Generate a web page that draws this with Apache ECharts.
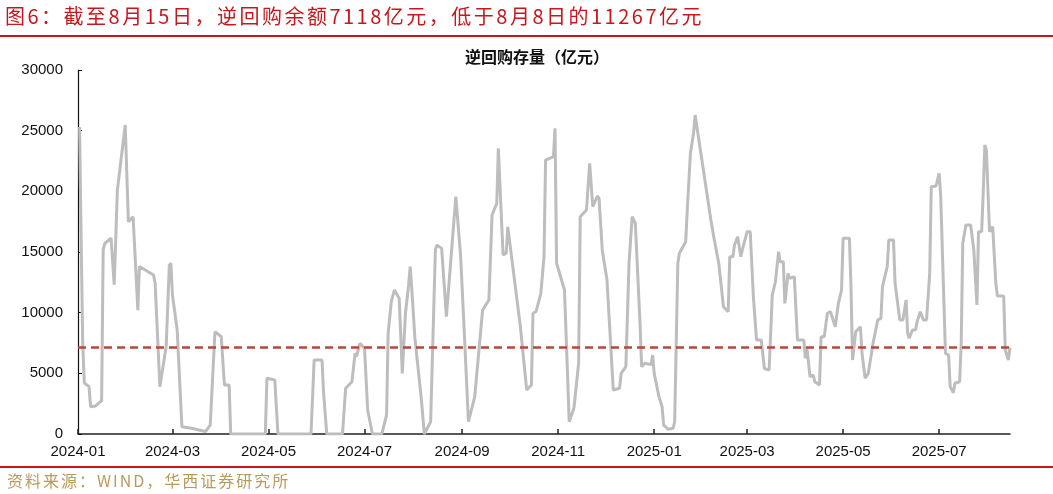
<!DOCTYPE html>
<html>
<head>
<meta charset="utf-8">
<script src="https://cdn.jsdelivr.net/npm/echarts@6/dist/echarts.min.js"></script>
<style>
  html, body { margin: 0; padding: 0; background: #fff; }
  #wrap { position: relative; width: 1053px; height: 494px; overflow: hidden; }
  #chart { position: absolute; left: 0; top: 0; width: 1053px; height: 494px; }
  .hdr { position: absolute; left: 5px; top: 3px; font-family: "Noto Sans CJK SC", sans-serif; font-size: 20px; color: #C8161D; letter-spacing: 2.5px; white-space: nowrap; line-height: 26px; }
  .ftr { position: absolute; left: 7px; top: 469px; font-family: "Noto Sans CJK SC", sans-serif; font-size: 16px; color: #B99A5B; letter-spacing: 2px; white-space: nowrap; line-height: 22px; }
  .rule { position: absolute; left: 0; width: 1053px; height: 1.5px; background: #C8161D; }
</style>
</head>
<body>
<div id="wrap">
  <div id="chart"></div>
  <div class="hdr">图6：截至8月15日，逆回购余额7118亿元，低于8月8日的11267亿元</div>
  <div class="rule" style="top:35px;"></div>
  <div class="rule" style="top:466px;"></div>
  <div class="ftr">资料来源：WIND，华西证券研究所</div>
</div>
<script>
// ---- data ----
const chartTitle = '逆回购存量（亿元）';
const dates = [
  '2024-01-02','2024-01-03','2024-01-04','2024-01-05','2024-01-08','2024-01-09','2024-01-12','2024-01-16','2024-01-17','2024-01-18',
  '2024-01-22','2024-01-24','2024-01-26','2024-01-31','2024-02-02','2024-02-05','2024-02-08','2024-02-09','2024-02-18','2024-02-19',
  '2024-02-22','2024-02-24','2024-02-26','2024-02-28','2024-02-29','2024-03-01','2024-03-04','2024-03-07','2024-03-13','2024-03-22',
  '2024-03-25','2024-03-28','2024-04-01','2024-04-03','2024-04-06','2024-04-07','2024-04-29','2024-04-30','2024-05-05','2024-05-07',
  '2024-05-28','2024-05-30','2024-06-04','2024-06-05','2024-06-07','2024-06-17','2024-06-19','2024-06-23','2024-06-25','2024-06-26',
  '2024-06-28','2024-07-01','2024-07-03','2024-07-06','2024-07-12','2024-07-15','2024-07-16','2024-07-18','2024-07-20','2024-07-23',
  '2024-07-25','2024-07-27','2024-07-29','2024-07-30','2024-07-31','2024-08-02','2024-08-06','2024-08-08','2024-08-12','2024-08-15',
  '2024-08-16','2024-08-19','2024-08-22','2024-08-28','2024-08-29','2024-08-31','2024-09-02','2024-09-05','2024-09-09','2024-09-14',
  '2024-09-18','2024-09-20','2024-09-23','2024-09-24','2024-09-27','2024-09-29','2024-09-30','2024-10-08','2024-10-12','2024-10-15',
  '2024-10-16','2024-10-18','2024-10-21','2024-10-23','2024-10-24','2024-10-29','2024-10-30','2024-10-31','2024-11-05','2024-11-07',
  '2024-11-08','2024-11-11','2024-11-14','2024-11-15','2024-11-19','2024-11-20','2024-11-21','2024-11-23','2024-11-26','2024-11-27',
  '2024-11-29','2024-12-02','2024-12-06','2024-12-10','2024-12-11','2024-12-14','2024-12-16','2024-12-18','2024-12-20','2024-12-23',
  '2024-12-24','2024-12-26','2024-12-30','2024-12-31','2025-01-01','2025-01-04','2025-01-06','2025-01-07','2025-01-10','2025-01-13',
  '2025-01-14','2025-01-16','2025-01-17','2025-01-21','2025-01-22','2025-01-24','2025-01-26','2025-01-27','2025-02-06','2025-02-08',
  '2025-02-09','2025-02-11','2025-02-12','2025-02-14','2025-02-17','2025-02-18','2025-02-20','2025-02-21','2025-02-23','2025-02-25',
  '2025-02-26','2025-03-01','2025-03-03','2025-03-05','2025-03-07','2025-03-10','2025-03-12','2025-03-15','2025-03-17','2025-03-19',
  '2025-03-21','2025-03-22','2025-03-24','2025-03-25','2025-03-27','2025-03-28','2025-03-31','2025-04-02','2025-04-06','2025-04-07',
  '2025-04-08','2025-04-10','2025-04-12','2025-04-13','2025-04-16','2025-04-17','2025-04-19','2025-04-21','2025-04-23','2025-04-26',
  '2025-04-28','2025-04-30','2025-05-01','2025-05-05','2025-05-06','2025-05-07','2025-05-09','2025-05-12','2025-05-13','2025-05-15',
  '2025-05-17','2025-05-20','2025-05-23','2025-05-25','2025-05-26','2025-05-29','2025-05-30','2025-06-02','2025-06-03','2025-06-04',
  '2025-06-06','2025-06-08','2025-06-10','2025-06-11','2025-06-12','2025-06-14','2025-06-16','2025-06-17','2025-06-19','2025-06-21',
  '2025-06-23','2025-06-25','2025-06-26','2025-06-29','2025-07-01','2025-07-02','2025-07-05','2025-07-07','2025-07-08','2025-07-10',
  '2025-07-11','2025-07-14','2025-07-15','2025-07-16','2025-07-18','2025-07-21','2025-07-23','2025-07-25','2025-07-26','2025-07-28',
  '2025-07-29','2025-07-30','2025-07-31','2025-08-02','2025-08-03','2025-08-04','2025-08-06','2025-08-07','2025-08-11','2025-08-12',
  '2025-08-14','2025-08-15'
];
const reverseRepo = [
  25300,16000,7500,4200,3900,2250,2300,2750,15200,15700,
  16150,12300,20100,25470,17500,17900,10200,13800,13100,12400,
  3900,5550,7200,13900,14070,11460,8570,600,470,200,
  740,8430,8020,4040,4040,0,0,4590,4450,0,
  0,6100,6100,3380,0,0,3770,4310,6650,6400,
  7470,7060,1980,0,0,1570,8300,10900,11870,11180,
  5000,9950,12280,13790,12000,7890,3000,0,1010,15170,
  15580,15300,9670,19560,19560,14750,9400,1010,3080,10220,
  11040,18050,19010,23550,14750,14900,17070,8840,3630,4040,
  9950,10100,11600,14620,22580,22860,25200,14070,11870,4720,
  1010,2120,5830,17910,18460,20380,22310,18730,19620,19400,
  15170,12690,3630,3770,5000,5550,14070,17910,17370,9120,
  5550,5830,5720,6510,5000,3080,2250,740,390,470,
  1010,14070,14890,15850,18460,23130,24780,26290,17640,16130,
  16000,14070,14200,10490,10080,14610,14610,15580,16260,14610,
  15170,16670,16670,11310,7750,7750,5400,5270,11460,12550,
  15030,14200,14200,10770,13240,12830,12960,7750,7750,6240,
  7060,4720,4860,4310,4040,8020,8020,9950,10080,8840,
  10770,11870,16130,16130,12140,6100,8430,8840,6650,4590,
  5000,7470,9400,9530,12140,13790,15990,15990,12420,12280,
  9400,9400,11040,8300,7890,8570,8570,9260,10080,9400,
  9400,13240,20380,20440,21480,19560,6650,6510,3900,3400,
  4180,4310,7470,15720,17230,17230,15170,10630,16670,16670,
  19970,23820,23410,16670,16670,17090,12420,11370,11370,6920,
  6100,7118
];
const latestValue = 7118;            // dashed reference line
const axisStart = '2024-01-01';
const axisEnd = '2025-08-15';
const tickLabels = ['2024-01','2024-03','2024-05','2024-07','2024-09','2024-11','2025-01','2025-03','2025-05','2025-07'];
const yTicks = [0, 5000, 10000, 15000, 20000, 25000, 30000];

// ---- build ----
const toTs = s => echarts.time.parse(s).getTime();
const tickValues = tickLabels.map(t => toTs(t + '-01'));
const seriesData = dates.map((d, i) => [toTs(d), reverseRepo[i]]);
const pad2 = n => (n < 10 ? '0' : '') + n;

const chart = echarts.init(document.getElementById('chart'), null, { renderer: 'canvas' });
chart.setOption({
  animation: false,
  backgroundColor: 'transparent',
  title: {
    text: chartTitle,
    left: 460, top: 44,
    textStyle: { fontFamily: '"Noto Sans CJK SC", sans-serif', fontSize: 16, fontWeight: 'bold', color: '#111' }
  },
  grid: { left: 78, right: 43, top: 70, bottom: 60 },
  xAxis: {
    type: 'value',
    min: toTs(axisStart),
    max: toTs(axisEnd),
    splitLine: { show: false },
    axisLine: { lineStyle: { color: '#222', width: 1.5 } },
    axisTick: { inside: true, length: 5, lineStyle: { color: '#222', width: 1.5 }, customValues: tickValues },
    axisLabel: {
      customValues: tickValues,
      margin: 10,
      color: '#111',
      fontFamily: '"Liberation Sans", Arial, sans-serif',
      fontSize: 15,
      formatter: v => { const d = new Date(v); return d.getFullYear() + '-' + pad2(d.getMonth() + 1); }
    }
  },
  yAxis: {
    type: 'value',
    min: yTicks[0],
    max: yTicks[yTicks.length - 1],
    interval: yTicks[1] - yTicks[0],
    splitLine: { show: false },
    axisLine: { show: true, lineStyle: { color: '#111', width: 1.2 } },
    axisTick: { show: true, inside: true, length: 4, lineStyle: { color: '#111' } },
    axisLabel: {
      margin: 15, color: '#111', fontFamily: '"Liberation Sans", Arial, sans-serif', fontSize: 15,
      formatter: v => String(v)
    }
  },
  series: [{
    type: 'line',
    data: seriesData,
    showSymbol: false,
    symbol: 'none',
    lineStyle: { color: '#BDBDBD', width: 3 },
    itemStyle: { color: '#BDBDBD' },
    markLine: {
      silent: true,
      symbol: ['none', 'none'],
      label: { show: false },
      lineStyle: { color: '#B5473B', width: 2.5, type: [8, 5] },
      data: [{ yAxis: latestValue }]
    }
  }]
});
</script>
</body>
</html>
